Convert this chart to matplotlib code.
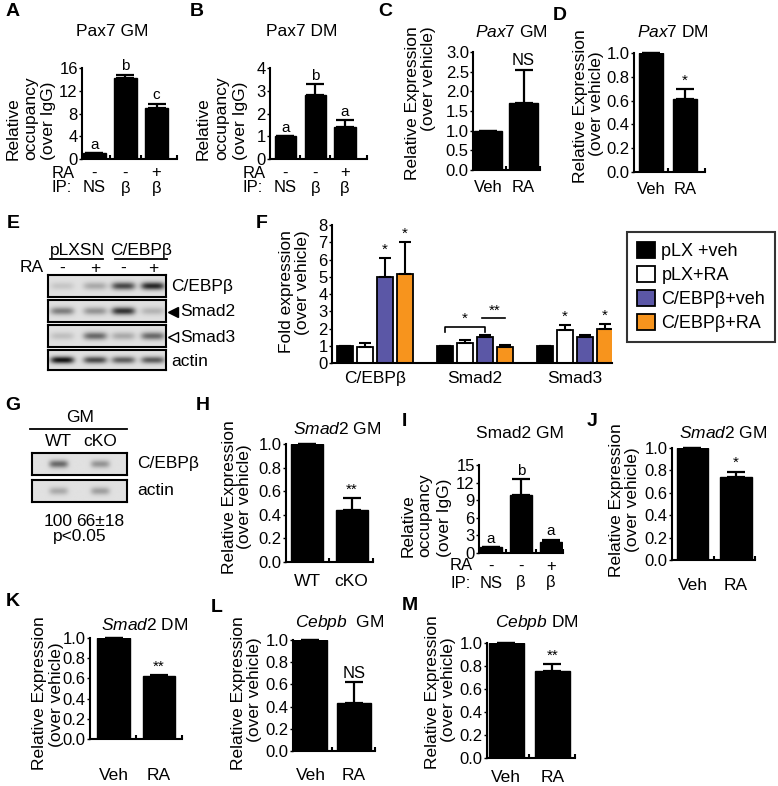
import numpy as np
import matplotlib
matplotlib.use('Agg')
import matplotlib.pyplot as plt

W, H = 778, 786
plt.rcParams['font.family'] = ['Liberation Sans', 'DejaVu Sans']
plt.rcParams['mathtext.fontset'] = 'custom'
plt.rcParams['mathtext.rm'] = 'Liberation Sans'
plt.rcParams['mathtext.it'] = 'Liberation Sans:italic'

# ---- data ----
# A / B: ChIP on Pax7 promoter
chip_ra = ['-', '-', '+']
chip_ip = ['NS', 'β', 'β']
a_vals = [1.0, 14.2, 9.0]
a_err = [0.0, 0.6, 0.7]
a_letters = ['a', 'b', 'c']
b_vals = [1.0, 2.8, 1.4]
b_err = [0.0, 0.5, 0.3]
b_letters = ['a', 'b', 'a']

veh_ra = ['Veh', 'RA']
c_vals = [1.0, 1.7]
c_err = [0.0, 0.85]
d_vals = [1.0, 0.61]
d_err = [0.0, 0.09]

# E: western blot band strengths (0 = none, 1 = darkest)
e_rows = ['C/EBPβ', 'Smad2', 'Smad3', 'actin']
e_ra = ['-', '+', '-', '+']
e_bands = [[0.12, 0.25, 0.7, 0.85],
           [0.45, 0.35, 0.8, 0.2],
           [0.15, 0.55, 0.25, 0.55],
           [0.95, 0.7, 0.6, 0.62]]

# F: fold expression
f_groups = ['C/EBPβ', 'Smad2', 'Smad3']
f_series = ['pLX +veh', 'pLX+RA', 'C/EBPβ+veh', 'C/EBPβ+RA']
f_colors = ['black', 'white', '#5b57a6', '#f7941d']
f_plx_veh = [1.0, 1.0, 1.0]
f_plx_ra = [0.95, 1.17, 1.9]
f_cebpb_veh = [5.0, 1.5, 1.5]
f_cebpb_ra = [5.15, 0.93, 2.0]
f_plx_veh_err = [0.0, 0.0, 0.0]
f_plx_ra_err = [0.2, 0.15, 0.32]
f_cebpb_veh_err = [1.1, 0.1, 0.12]
f_cebpb_ra_err = [1.85, 0.1, 0.27]
f_stars = [[None, None, '*', '*'], [None, None, None, None], [None, '*', None, '*']]

# G: western blot
g_lanes = ['WT', 'cKO']
g_rows = ['C/EBPβ', 'actin']
g_bands = [[0.55, 0.35], [0.25, 0.3]]
g_quant = ['100', '66±18']

wt_cko = ['WT', 'cKO']
h_vals = [1.0, 0.44]
h_err = [0.0, 0.1]
i_vals = [1.0, 9.9, 1.9]
i_err = [0.0, 2.7, 0.4]
i_letters = ['a', 'b', 'a']
j_vals = [1.0, 0.74]
j_err = [0.0, 0.05]
k_vals = [1.0, 0.62]
k_err = [0.0, 0.01]
l_vals = [1.0, 0.43]
l_err = [0.0, 0.19]
m_vals = [1.0, 0.76]
m_err = [0.0, 0.06]

fig = plt.figure(figsize=(W / 100, H / 100), dpi=100)


def px_axes(x0, y0, x1, y1):
    return fig.add_axes([x0 / W, 1 - y1 / H, (x1 - x0) / W, (y1 - y0) / H])


def ftext(x, y, s, **kw):
    kw.setdefault('ha', 'center')
    kw.setdefault('va', 'center')
    return fig.text(x / W, 1 - y / H, s, **kw)


def under(ax, box, xs, labels, y_px, size=12):
    yf = (box[3] - y_px) / (box[3] - box[1])
    for x, s in zip(xs, labels):
        ax.text(x, yf, s, transform=ax.get_xaxis_transform(), ha='center',
                va='center', fontsize=size, clip_on=False)


def bar_panel(box, vals, errs, ytop, yticks, fmt, xlim, width, notes, note_size=11):
    ax = px_axes(*box)
    x = np.arange(len(vals))
    ax.bar(x, vals, width, color='black', edgecolor='black')
    ax.errorbar(x, vals, yerr=[np.zeros(len(vals)), errs], fmt='none', ecolor='black',
                elinewidth=1.6, capsize=6.5, capthick=1.6, clip_on=False)
    for i, n in enumerate(notes):
        if n:
            ax.annotate(n, (x[i], vals[i] + errs[i]), xytext=(0, 1), textcoords='offset points',
                        ha='center', va='bottom', fontsize=note_size, annotation_clip=False)
    ax.set_xlim(*xlim)
    ax.set_ylim(0, ytop)
    ax.set_yticks(yticks)
    ax.set_yticklabels([fmt.format(t) for t in yticks])
    # little upward ticks between bars and at the end of the x axis
    ax.set_xticks(list(x[:-1] + 0.5) + [xlim[1]])
    ax.set_xticklabels([])
    ax.tick_params(axis='x', direction='in', length=3, width=1.5)
    for s in ['top', 'right']:
        ax.spines[s].set_visible(False)
    for s in ['left', 'bottom']:
        ax.spines[s].set_linewidth(1.5)
    ax.tick_params(axis='y', length=2, width=1, pad=1, labelsize=12)
    ax.patch.set_alpha(0)
    return ax


def blot(box, lanes, bands):
    ax = px_axes(*box)
    X, Y = np.meshgrid(np.linspace(0, 1, 240), np.linspace(0, 1, 40))
    img = np.full(X.shape, 0.88)
    for lx, b in zip(lanes, bands):
        img -= 0.85 * b * np.exp(-((X - lx) / 0.1) ** 4) * np.exp(-((Y - 0.5) / 0.18) ** 2)
    ax.imshow(img, cmap='gray', vmin=0, vmax=1, extent=(0, 1, 0, 1), aspect='auto')
    ax.set_xticks([])
    ax.set_yticks([])
    for s in ax.spines.values():
        s.set_linewidth(1.5)
    return ax


# ---- A ----
boxA = (82, 68, 177, 159)
axA = bar_panel(boxA, a_vals, a_err, 16, [0, 4, 8, 12, 16], '{:.0f}', (-0.40, 2.66), 0.74, a_letters)
under(axA, boxA, range(3), chip_ra, 173)
under(axA, boxA, range(3), chip_ip, 188)
ftext(52, 173, 'RA', ha='left', fontsize=12)
ftext(52, 188, 'IP:', ha='left', fontsize=12)

# ---- B ----
boxB = (270, 68, 367, 159)
axB = bar_panel(boxB, b_vals, b_err, 4, [0, 1, 2, 3, 4], '{:.0f}', (-0.52, 2.74), 0.71, b_letters)
under(axB, boxB, range(3), chip_ra, 173)
under(axB, boxB, range(3), chip_ip, 188)
ftext(243, 173, 'RA', ha='left', fontsize=12)
ftext(243, 188, 'IP:', ha='left', fontsize=12)

# ---- C ----
boxC = (473, 52, 540, 170)
axC = bar_panel(boxC, c_vals, c_err, 3, [0, 0.5, 1, 1.5, 2, 2.5, 3], '{:.1f}', (-0.42, 1.46), 0.8,
                [None, 'NS'], note_size=12)
under(axC, boxC, range(2), veh_ra, 188)

# ---- D ----
boxD = (634, 53, 705, 172)
axD = bar_panel(boxD, d_vals, d_err, 1, [0, 0.2, 0.4, 0.6, 0.8, 1.0], '{:.1f}', (-0.5, 1.59), 0.7,
                [None, '*'])
under(axD, boxD, range(2), veh_ra, 189)

# ---- E ----
e_lanes = [0.12, 0.40, 0.64, 0.89]
e_boxes = [(48, 275, 166, 297), (48, 300, 166, 322), (48, 325, 166, 347), (48, 350, 166, 370)]
for bx, bands in zip(e_boxes, e_bands):
    blot(bx, e_lanes, bands)
ftext(77, 251, 'pLXSN', fontsize=12.5)
ftext(141, 251, 'C/EBPβ', fontsize=12.5)
fig.add_artist(plt.Line2D([50 / W, 103 / W], [1 - 259 / H] * 2, color='black', lw=1.3))
fig.add_artist(plt.Line2D([115 / W, 167 / W], [1 - 259 / H] * 2, color='black', lw=1.3))
ftext(32, 268, 'RA', fontsize=12.5)
for lx, s in zip(e_lanes, e_ra):
    ftext(48 + lx * 118, 268, s, fontsize=12.5)
ftext(171, 287, e_rows[0], ha='left', fontsize=12.5)
ftext(180, 312, e_rows[1], ha='left', fontsize=12.5)
ftext(180, 337, e_rows[2], ha='left', fontsize=12.5)
ftext(171, 361, e_rows[3], ha='left', fontsize=12.5)
fig.add_artist(plt.Line2D([173 / W], [1 - 312 / H], marker='<', ms=7, color='black', mfc='black'))
fig.add_artist(plt.Line2D([173 / W], [1 - 337 / H], marker='<', ms=7, color='black', mfc='white'))

# ---- F ----
boxF = (332, 225, 612, 363)
axF = px_axes(*boxF)
f_vals = [f_plx_veh, f_plx_ra, f_cebpb_veh, f_cebpb_ra]
f_errs = [f_plx_veh_err, f_plx_ra_err, f_cebpb_veh_err, f_cebpb_ra_err]
gx = np.arange(len(f_groups))
step = 0.197
for k, (name, col, v, e) in enumerate(zip(f_series, f_colors, f_vals, f_errs)):
    xs = gx + (k - 1.5) * step
    axF.bar(xs, v, 0.16, color=col, edgecolor='black', linewidth=1.3, label=name)
    axF.errorbar(xs, v, yerr=[np.zeros(3), e], fmt='none', ecolor='black',
                 elinewidth=1.5, capsize=4.5, capthick=1.5)
    for g in range(3):
        s = f_stars[g][k]
        if s:
            axF.annotate(s, (xs[g], v[g] + e[g]), xytext=(0, 1), textcoords='offset points',
                         ha='center', va='bottom', fontsize=11)
# Smad2 comparisons
x_blk = 1 - 1.5 * step
x_pur = 1 + 0.5 * step
x_ora = 1 + 1.5 * step
axF.plot([x_blk, x_blk, x_pur, x_pur], [1.8, 2.1, 2.1, 1.8], color='black', lw=1.2)
axF.text((x_blk + x_pur) / 2, 2.15, '*', ha='center', va='bottom', fontsize=11)
axF.plot([x_pur - 0.03, x_ora], [2.6, 2.6], color='black', lw=1.2)
axF.text((x_pur + x_ora) / 2, 2.65, '**', ha='center', va='bottom', fontsize=11)
axF.set_xlim(-0.43, 2.37)
axF.set_ylim(0, 8)
axF.set_yticks(range(9))
axF.set_xticks(gx)
axF.set_xticklabels(f_groups)
for s in ['top', 'right']:
    axF.spines[s].set_visible(False)
for s in ['left', 'bottom']:
    axF.spines[s].set_linewidth(1.5)
axF.tick_params(axis='y', length=2, width=1, pad=1, labelsize=12)
axF.tick_params(axis='x', length=0, pad=6, labelsize=12.5)
axF.patch.set_alpha(0)
leg = axF.legend(loc='upper left', bbox_to_anchor=(627 / W, 1 - 232 / H), bbox_transform=fig.transFigure,
                 fontsize=13, frameon=True, fancybox=False, edgecolor='black', handlelength=1.0,
                 handleheight=1.0, handletextpad=0.35, labelspacing=0.32, borderpad=0.55,
                 borderaxespad=0)
leg.get_frame().set_linewidth(1.5)

# ---- G ----
g_lane_x = [0.28, 0.72]
blot((32, 453, 127, 475), g_lane_x, g_bands[0])
blot((32, 480, 127, 502), g_lane_x, g_bands[1])
ftext(80, 417, 'GM', fontsize=12.5)
fig.add_artist(plt.Line2D([30 / W, 127 / W], [1 - 429 / H] * 2, color='black', lw=1.3))
for lx, s, q in zip(g_lane_x, g_lanes, g_quant):
    ftext(32 + lx * 95, 442, s, fontsize=12.5)
    ftext(32 + lx * 95, 521, q, fontsize=12.5)
ftext(137, 464, g_rows[0], ha='left', fontsize=12.5)
ftext(137, 491, g_rows[1], ha='left', fontsize=12.5)
ftext(80, 537, 'p<0.05', fontsize=12.5)

# ---- H ----
boxH = (286, 444, 373, 562)
axH = bar_panel(boxH, h_vals, h_err, 1, [0, 0.2, 0.4, 0.6, 0.8, 1.0], '{:.1f}', (-0.47, 1.48), 0.72,
                [None, '**'])
under(axH, boxH, range(2), wt_cko, 582, size=12.5)

# ---- I ----
boxI = (479, 465, 563, 553)
axI = bar_panel(boxI, i_vals, i_err, 15, [0, 3, 6, 9, 12, 15], '{:.0f}', (-0.4, 2.4), 0.73, i_letters)
under(axI, boxI, range(3), chip_ra, 566)
under(axI, boxI, range(3), chip_ip, 583)
ftext(450, 566, 'RA', ha='left', fontsize=12)
ftext(450, 583, 'IP:', ha='left', fontsize=12)

# ---- J ----
boxJ = (672, 448, 755, 560)
axJ = bar_panel(boxJ, j_vals, j_err, 1, [0, 0.2, 0.4, 0.6, 0.8, 1.0], '{:.1f}', (-0.47, 1.44), 0.72,
                [None, '*'])
under(axJ, boxJ, range(2), veh_ra, 585, size=12.5)

# ---- K ----
boxK = (90, 638, 182, 739)
axK = bar_panel(boxK, k_vals, k_err, 1, [0, 0.2, 0.4, 0.6, 0.8, 1.0], '{:.1f}', (-0.53, 1.51), 0.73,
                [None, '**'])
under(axK, boxK, range(2), veh_ra, 775, size=12.5)

# ---- L ----
boxL = (293, 640, 375, 751)
axL = bar_panel(boxL, l_vals, l_err, 1, [0, 0.2, 0.4, 0.6, 0.8, 1.0], '{:.1f}', (-0.4, 1.48), 0.78,
                [None, 'NS'], note_size=12)
under(axL, boxL, range(2), veh_ra, 775, size=12.5)

# ---- M ----
boxM = (487, 643, 575, 758)
axM = bar_panel(boxM, m_vals, m_err, 1, [0, 0.2, 0.4, 0.6, 0.8, 1.0], '{:.1f}', (-0.42, 1.49), 0.75,
                [None, '**'])
under(axM, boxM, range(2), veh_ra, 778, size=12.5)

# ---- titles ----
ftext(112, 32, 'Pax7 GM', fontsize=12.5)
ftext(302, 32, 'Pax7 DM', fontsize=12.5)
ftext(511, 32, r'$\mathit{Pax7}$ GM', fontsize=12.5)
ftext(673, 32, r'$\mathit{Pax7}$ DM', fontsize=12.5)
ftext(337, 429, r'$\mathit{Smad2}$ GM', fontsize=12.5)
ftext(520, 434, 'Smad2 GM', fontsize=12.5)
ftext(723, 433, r'$\mathit{Smad2}$ GM', fontsize=12.5)
ftext(145, 625, r'$\mathit{Smad2}$ DM', fontsize=12.5)
ftext(340, 622, r'$\mathit{Cebpb}$  GM', fontsize=12.5)
ftext(537, 622, r'$\mathit{Cebpb}$ DM', fontsize=12.5)

# ---- y labels ----
ylabels = [
    ('Relative', 13, 160, 'bottom'), ('occupancy', 31, 160, 'bottom'), ('(over IgG)', 49, 160, 'bottom'),
    ('Relative', 203, 160, 'bottom'), ('occupancy', 222, 160, 'bottom'), ('(over IgG)', 240, 160, 'bottom'),
    ('Relative Expression', 412, 26, 'top'), ('(over vehicle)', 429, 26, 'top'),
    ('Relative Expression', 581, 106, 'center'), ('(over vehicle)', 597, 104, 'center'),
    ('Fold expression', 287, 230, 'top'), ('(over vehicle)', 303, 230, 'top'),
    ('Relative Expression', 229, 497, 'center'), ('(over vehicle)', 245, 497, 'center'),
    ('Relative', 408, 557, 'bottom'), ('occupancy', 425, 557, 'bottom'), ('(over IgG)', 444, 557, 'bottom'),
    ('Relative Expression', 617, 500, 'center'), ('(over vehicle)', 633, 500, 'center'),
    ('Relative Expression', 40, 693, 'center'), ('(over vehicle)', 56, 695, 'center'),
    ('Relative Expression', 238, 693, 'center'), ('(over vehicle)', 255, 690, 'center'),
    ('Relative Expression', 432, 692, 'center'), ('(over vehicle)', 449, 690, 'center'),
]
for s, x, y, va in ylabels:
    ftext(x, y, s, rotation=90, va=va, fontsize=12.5)

# ---- panel letters ----
letters = [('A', 13, 12), ('B', 197, 12), ('C', 385, 12), ('D', 560, 15), ('E', 13, 224),
           ('F', 262, 223), ('G', 13, 406), ('H', 203, 406), ('I', 404, 421), ('J', 592, 422),
           ('K', 13, 602), ('L', 217, 608), ('M', 410, 605)]
for s, x, y in letters:
    ftext(x, y, s, fontsize=14, fontweight='bold')

fig.savefig('out.png', dpi=100)
